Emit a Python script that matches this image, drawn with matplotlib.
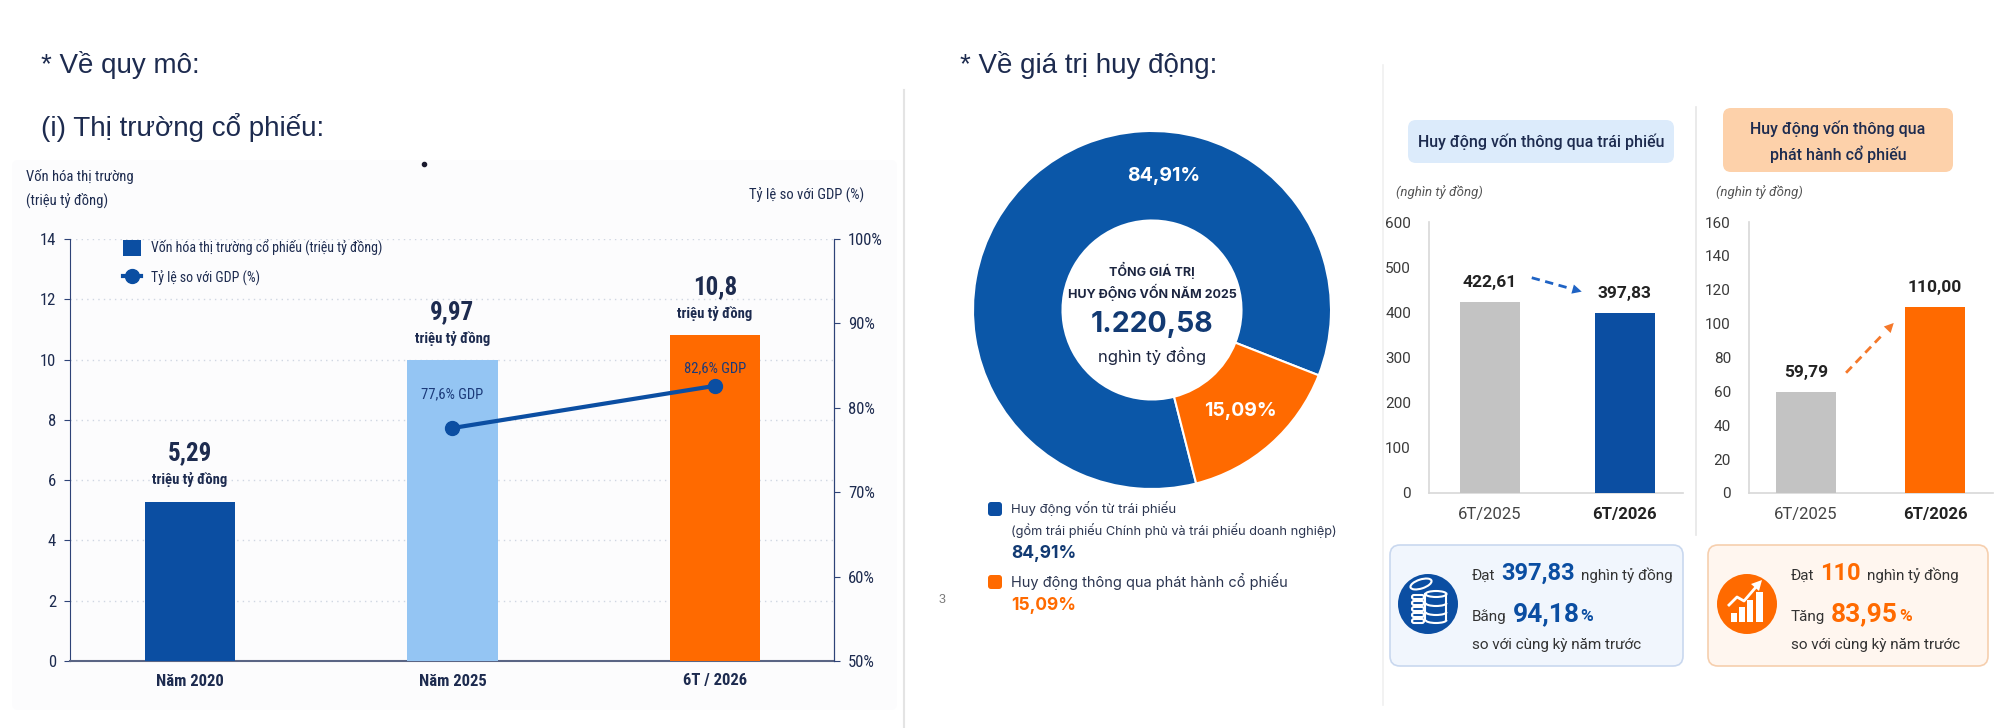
import numpy as np
import matplotlib
matplotlib.use('Agg')
import matplotlib.pyplot as plt
from matplotlib import font_manager as fm
from matplotlib.patches import FancyBboxPatch, Circle, Rectangle, Ellipse, Arc, Polygon

# ---- data ----
scale_cats = ['Năm 2020', 'Năm 2025', '6T / 2026']
market_cap = [5.29, 9.97, 10.8]          # triệu tỷ đồng
gdp_ratio = [77.6, 82.6]                 # % GDP (Năm 2025, 6T/2026)

share_labels = ['Huy động vốn từ trái phiếu', 'Huy động thông qua phát hành cổ phiếu']
share_values = [84.91, 15.09]
total_2025 = 1220.58

period_cats = ['6T/2025', '6T/2026']
bond_values = [422.61, 397.83]
stock_values = [59.79, 110.00]
yoy_pct = [94.18, 83.95]

W, H = 1996, 728

installed = {f.name for f in fm.fontManager.ttflist}


def pick(*names):
    for n in names:
        if n in installed:
            return n
    return 'DejaVu Sans'


NARROW = pick('Liberation Sans Narrow', 'Roboto Condensed', 'Roboto')
SANS = pick('Liberation Sans', 'Roboto')
ROBOTO = pick('Roboto', 'Liberation Sans')
INTER = pick('Inter', 'Open Sans', 'Roboto')

NAVY = '#1d2b4f'
AXNAVY = '#2e4377'
BLUE = '#0b4ea2'
DONUT_BLUE = '#0b57a8'
ORANGE = '#ff6a00'
LIGHT_BLUE = '#94c5f3'
GRAY_BAR = '#c3c3c3'


def vn(v, fmt='{:g}'):
    return fmt.format(v).replace('.', ',')


fig = plt.figure(figsize=(W / 100, H / 100), dpi=100)
fig.patch.set_facecolor('white')

# background axes in pixel units (origin top-left)
bg = fig.add_axes([0, 0, 1, 1])
bg.set_xlim(0, W)
bg.set_ylim(H, 0)
bg.axis('off')


def px_axes(x0, y0, x1, y1):
    ax = fig.add_axes([x0 / W, 1 - y1 / H, (x1 - x0) / W, (y1 - y0) / H])
    ax.set_facecolor('none')
    return ax


# ---- titles / separators ----
bg.add_patch(FancyBboxPatch((12, 160), 885, 550, boxstyle='round,pad=0,rounding_size=6',
                            fc='#fcfcfd', ec='none', zorder=0))
bg.text(41, 65, '* Về quy mô:', fontsize=20, color=NAVY, family=SANS, va='center')
bg.text(41, 127, '(i) Thị trường cổ phiếu:', fontsize=20, color=NAVY, family=SANS, va='center')
bg.text(960, 65, '* Về giá trị huy động:', fontsize=20, color=NAVY, family=SANS, va='center')
bg.plot([904, 904], [90, 728], color='#e4e4e4', lw=1.5)
bg.plot([1383, 1383], [65, 705], color='#f0f0f0', lw=1.2)
bg.plot([1696, 1696], [107, 535], color='#e6e6e6', lw=1.2)
bg.plot([424], [164], 'o', ms=3, color='#1a1a2e')
bg.text(939, 600, '3', fontsize=9, color='#777777', family=SANS, va='center')

# ---- left chart: market cap + % GDP ----
bg.text(26, 177, 'Vốn hóa thị trường', fontsize=10.5, color=NAVY, family=NARROW, va='center')
bg.text(26, 200, '(triệu tỷ đồng)', fontsize=10.5, color=NAVY, family=NARROW, va='center')
bg.text(864, 195, 'Tỷ lệ so với GDP (%)', fontsize=10.5, color=NAVY, family=NARROW,
        va='center', ha='right')

ax = px_axes(70, 239, 834, 661)
x = np.arange(len(scale_cats))
bars = ax.bar(x, market_cap, width=0.345, color=[BLUE, LIGHT_BLUE, ORANGE], zorder=3)
ax.set_xlim(-0.457, 2.454)
ax.set_ylim(0, 14)
yt = list(range(0, 15, 2))
ax.set_yticks(yt, [str(t) for t in yt], fontsize=12, color=NAVY, family=NARROW)
ax.set_xticks(x, scale_cats, fontsize=12, color=NAVY, family=NARROW, fontweight='bold')
ax.grid(axis='y', linestyle=(0, (1, 3)), color='#cfd6e2', lw=1)
ax.set_axisbelow(True)
ax.tick_params(axis='y', length=4, color=AXNAVY, pad=6)
ax.tick_params(axis='x', length=0, pad=9)
ax.spines['top'].set_visible(False)
ax.spines['left'].set_color(AXNAVY)
ax.spines['right'].set_color(AXNAVY)
ax.spines['bottom'].set_color('#5a6584')
ax.spines['bottom'].set_linewidth(1.5)

for xi, v in zip(x, market_cap):
    ax.annotate(vn(v), (xi, v), xytext=(0, 34.5), textcoords='offset points', ha='center',
                va='center', fontsize=18, fontweight='bold', color=NAVY, family=NARROW)
    ax.annotate('triệu tỷ đồng', (xi, v), xytext=(0, 15.8), textcoords='offset points',
                ha='center', va='center', fontsize=10.5, fontweight='bold', color=NAVY, family=NARROW)
for xi, v, g in zip(x[1:], market_cap[1:], gdp_ratio):
    ax.annotate(vn(g) + '% GDP', (xi, v), xytext=(0, -24), textcoords='offset points',
                ha='center', va='center', fontsize=10.5, color='#1b3a7a', family=NARROW)

ax2 = ax.twinx()
ax2.set_ylim(50, 100)
rt = list(range(50, 101, 10))
ax2.set_yticks(rt, [f'{t}%' for t in rt], fontsize=12, color=NAVY, family=NARROW)
ax2.tick_params(axis='y', length=4, color=AXNAVY, pad=6)
for s in ['top', 'left', 'bottom']:
    ax2.spines[s].set_visible(False)
ax2.spines['right'].set_color(AXNAVY)
line, = ax2.plot(x[1:], gdp_ratio, color=BLUE, lw=3, marker='o', ms=10, zorder=4)

ax.legend([bars, line], ['Vốn hóa thị trường cổ phiếu (triệu tỷ đồng)', 'Tỷ lệ so với GDP (%)'],
          loc='upper left', bbox_to_anchor=(0.062, 1.012), frameon=False, borderaxespad=0,
          handlelength=1.3, handleheight=1.4, handletextpad=0.7, labelspacing=1.0,
          prop={'family': NARROW, 'size': 10}, labelcolor=NAVY)

# ---- donut ----
cx, cy, R = 1152, 310, 179
dax = px_axes(cx - R, cy - R, cx + R, cy + R)
start = -21.4
dax.pie(share_values, colors=[DONUT_BLUE, ORANGE], startangle=start, counterclock=True,
        radius=1, wedgeprops=dict(width=0.5, edgecolor='white', linewidth=1.5))
dax.set_xlim(-1, 1)
dax.set_ylim(-1, 1)
orange_mid = start + 360 * (share_values[0] + share_values[1] / 2) / sum(share_values)
for ang, v in zip([85.0, orange_mid], share_values):
    a = np.deg2rad(ang)
    dax.text(0.75 * np.cos(a), 0.75 * np.sin(a), vn(v, '{:.2f}') + '%', ha='center', va='center',
             fontsize=14, fontweight='bold', color='white', family=INTER)
dax.text(0, 0.223, 'TỔNG GIÁ TRỊ', ha='center', va='center', fontsize=9,
         fontweight='bold', color='#1c2540', family=INTER)
dax.text(0, 0.10, 'HUY ĐỘNG VỐN NĂM 2025', ha='center', va='center', fontsize=9,
         fontweight='bold', color='#1c2540', family=INTER)
dax.text(0, -0.08, '{:,.2f}'.format(total_2025).replace(',', 'X').replace('.', ',').replace('X', '.'),
         ha='center', va='center', fontsize=20.5, fontweight='bold', color='#123a73', family=INTER)
dax.text(0, -0.255, 'nghìn tỷ đồng', ha='center', va='center', fontsize=12,
         color='#1c2540', family=INTER)

# donut legend
bg.add_patch(FancyBboxPatch((988, 502), 14, 14, boxstyle='round,pad=0,rounding_size=3',
                            fc=BLUE, ec='none'))
bg.text(1011, 509, share_labels[0], fontsize=9.5, color='#2b3550', family=INTER, va='center')
bg.text(1011, 530, '(gồm trái phiếu Chính phủ và trái phiếu doanh nghiệp)', fontsize=9.2,
        color='#2b3550', family=INTER, va='center')
bg.text(1011, 554, vn(share_values[0], '{:.2f}') + '%', fontsize=12.5, fontweight='bold',
        color='#123a73', family=INTER, va='center')
bg.add_patch(FancyBboxPatch((988, 575), 14, 14, boxstyle='round,pad=0,rounding_size=3',
                            fc=ORANGE, ec='none'))
bg.text(1011, 582, share_labels[1], fontsize=10.5, color='#2b3550', family=INTER, va='center')
bg.text(1011, 606, vn(share_values[1], '{:.2f}') + '%', fontsize=12.5, fontweight='bold',
        color=ORANGE, family=INTER, va='center')

# ---- right: two period bar charts ----
bg.add_patch(FancyBboxPatch((1408, 120), 266, 43, boxstyle='round,pad=0,rounding_size=8',
                            fc='#dcebfb', ec='none'))
bg.text(1541, 142, 'Huy động vốn thông qua trái phiếu', ha='center', va='center',
        fontsize=11.5, color=NAVY, family=ROBOTO, fontweight='medium')
bg.add_patch(FancyBboxPatch((1723, 108), 230, 64, boxstyle='round,pad=0,rounding_size=8',
                            fc='#fdd1aa', ec='none'))
bg.text(1838, 129, 'Huy động vốn thông qua', ha='center', va='center',
        fontsize=11.5, color=NAVY, family=ROBOTO, fontweight='medium')
bg.text(1838, 154, 'phát hành cổ phiếu', ha='center', va='center',
        fontsize=11.5, color=NAVY, family=ROBOTO, fontweight='medium')
for xx in (1396, 1716):
    bg.text(xx, 192, '(nghìn tỷ đồng)', fontsize=9.5, style='italic', color='#555555',
            family=ROBOTO, va='center')


def period_chart(box, values, colors, ymax, step, xlim, bw, acolor, aoff):
    pax = px_axes(*box)
    xs = np.arange(len(values))
    pax.bar(xs, values, width=bw, color=colors, zorder=3)
    pax.set_xlim(*xlim)
    pax.set_ylim(0, ymax)
    ticks = np.arange(0, ymax + 1, step)
    pax.set_yticks(ticks, [f'{t:g}' for t in ticks], fontsize=11, color='#3a3a3a', family=ROBOTO)
    pax.set_xticks(xs, period_cats, fontsize=12, color='#444444', family=ROBOTO)
    pax.get_xticklabels()[1].set_fontweight('bold')
    pax.get_xticklabels()[1].set_color('#222222')
    pax.tick_params(axis='y', length=0, pad=13)
    pax.tick_params(axis='x', length=0, pad=10)
    for s in ['top', 'right']:
        pax.spines[s].set_visible(False)
    for s in ['left', 'bottom']:
        pax.spines[s].set_color('#d8d8d8')
        pax.spines[s].set_linewidth(1.2)
    for xi, v in zip(xs, values):
        pax.annotate(vn(v, '{:.2f}'), (xi, v), xytext=(0, 14), textcoords='offset points',
                     ha='center', va='center', fontsize=12.5, fontweight='bold',
                     color='#222222', family=ROBOTO)
    s0 = np.array([xs[0] + 0.31, values[0] + aoff[0] * ymax])
    e0 = np.array([xs[1] - 0.32, values[1] + aoff[1] * ymax])
    mid = s0 + 0.8 * (e0 - s0)
    pax.plot([s0[0], mid[0]], [s0[1], mid[1]], ls=(0, (3, 2)), lw=2, color=acolor, zorder=4)
    pax.annotate('', xy=e0, xytext=s0 + 0.7 * (e0 - s0),
                 arrowprops=dict(arrowstyle='-|>', color=acolor, lw=0, mutation_scale=17,
                                 shrinkA=0, shrinkB=0))
    return pax


period_chart((1429, 222, 1683, 493), bond_values, [GRAY_BAR, BLUE], 600, 100,
             (-0.451, 1.43), 0.44, '#1f63c4', (0.09, 0.08))
period_chart((1749, 222, 1993, 493), stock_values, [GRAY_BAR, ORANGE], 160, 20,
             (-0.443, 1.45), 0.46, '#f5782a', (0.07, -0.06))

# ---- info boxes ----
bg.add_patch(FancyBboxPatch((1390, 545), 293, 121, boxstyle='round,pad=0,rounding_size=10',
                            fc='#f1f6fd', ec='#c9d8ef', lw=1.2))
bg.add_patch(FancyBboxPatch((1708, 545), 280, 121, boxstyle='round,pad=0,rounding_size=10',
                            fc='#fff6ef', ec='#f6cfae', lw=1.2))

# coin icon
bg.add_patch(Circle((1428, 604), 30, fc=BLUE, ec='none'))
wk = dict(fc='none', ec='white', lw=1.5)
bg.add_patch(Ellipse((1421, 584), 22, 9, angle=-18, **wk))
bg.add_patch(Ellipse((1436, 594), 21, 6, **wk))
bg.plot([1425.5, 1425.5], [594, 620], color='white', lw=1.5)
bg.plot([1446.5, 1446.5], [594, 620], color='white', lw=1.5)
for yy in (603, 612, 620):
    bg.add_patch(Arc((1436, yy), 21, 6, theta1=0, theta2=180, **wk))
for yy in (597, 603, 609, 615, 621):
    bg.add_patch(FancyBboxPatch((1412, yy - 2), 12, 4, boxstyle='round,pad=0,rounding_size=2', **wk))

# trend icon
bg.add_patch(Circle((1747, 604), 30, fc=ORANGE, ec='none'))
for bx, top, bwid in [(1731, 613, 6), (1739, 607, 6), (1747, 600, 6), (1756, 592, 7)]:
    bg.add_patch(Rectangle((bx, top), bwid, 622 - top, fc='white', ec='none'))
bg.plot([1729, 1737, 1744, 1756], [605, 597, 601, 587], color='white', lw=2)
bg.add_patch(Polygon([[1762, 580], [1751, 584], [1759, 591]], closed=True, fc='white', ec='none'))

renderer = fig.canvas.get_renderer()


def runs(x0, y, parts):
    xx = x0
    for s, size, weight, color, gap in parts:
        t = bg.text(xx, y, s, fontsize=size, fontweight=weight, color=color, family=ROBOTO,
                    va='baseline')
        xx += t.get_window_extent(renderer).width + gap


TXT = '#333333'
runs(1472, 580, [('Đạt', 11, 'normal', TXT, 6), (vn(bond_values[1], '{:.2f}'), 17, 'bold', BLUE, 6),
                 ('nghìn tỷ đồng', 11, 'normal', TXT, 0)])
runs(1472, 621, [('Bằng', 11, 'normal', TXT, 6), (vn(yoy_pct[0], '{:.2f}'), 19, 'bold', BLUE, 1),
                 ('%', 12.5, 'bold', BLUE, 0)])
runs(1472, 649, [('so với cùng kỳ năm trước', 11, 'normal', TXT, 0)])
runs(1791, 580, [('Đạt', 11, 'normal', TXT, 6), (vn(stock_values[1]), 17, 'bold', ORANGE, 6),
                 ('nghìn tỷ đồng', 11, 'normal', TXT, 0)])
runs(1791, 621, [('Tăng', 11, 'normal', TXT, 6), (vn(yoy_pct[1], '{:.2f}'), 19, 'bold', ORANGE, 1),
                 ('%', 12.5, 'bold', ORANGE, 0)])
runs(1791, 649, [('so với cùng kỳ năm trước', 11, 'normal', TXT, 0)])

fig.savefig('out.png', dpi=100)
